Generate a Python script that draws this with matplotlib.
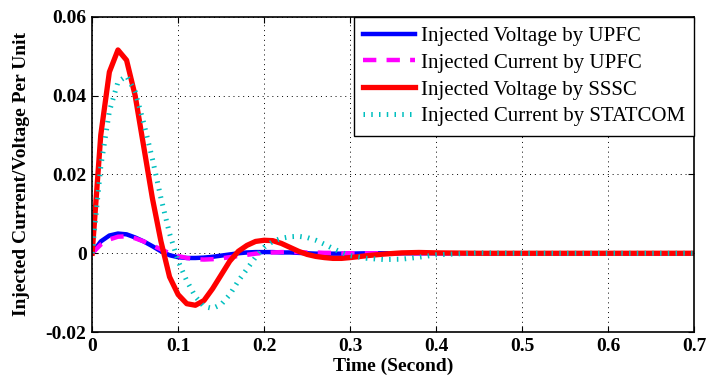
import matplotlib
matplotlib.use("Agg")
import matplotlib.pyplot as plt

# time base (s)
t = [0.00, 0.01, 0.02, 0.03, 0.04, 0.05, 0.06, 0.07, 0.08, 0.09,
     0.10, 0.11, 0.12, 0.13, 0.14, 0.15, 0.16, 0.17, 0.18, 0.19,
     0.20, 0.21, 0.22, 0.23, 0.24, 0.25, 0.26, 0.27, 0.28, 0.29,
     0.30, 0.32, 0.34, 0.36, 0.38, 0.40, 0.45, 0.50, 0.55, 0.60, 0.65, 0.70]

upfc_v = [0.0, 0.0030, 0.0045, 0.0050, 0.0048, 0.0040, 0.0030, 0.0018, 0.0005, -0.0005,
          -0.0010, -0.0012, -0.0012, -0.0011, -0.0009, -0.0006, -0.0003, 0.0, 0.0002, 0.0003,
          0.0003, 0.0003, 0.0002, 0.0002, 0.0001, 0.0, -0.0001, -0.0001, -0.0001, -0.0001,
          -0.0001, 0.0, 0.0, 0.0, 0.0, 0.0, 0.0, 0.0, 0.0, 0.0, 0.0, 0.0]

upfc_i = [0.0, 0.0022, 0.0035, 0.0042, 0.0043, 0.0038, 0.0030, 0.0020, 0.0010, 0.0,
          -0.0007, -0.0012, -0.0015, -0.0016, -0.0015, -0.0013, -0.0010, -0.0007, -0.0004, -0.0001,
          0.0001, 0.0002, 0.0003, 0.0003, 0.0003, 0.0002, 0.0002, 0.0001, 0.0001, 0.0,
          0.0, 0.0, 0.0, 0.0, 0.0, 0.0, 0.0, 0.0, 0.0, 0.0, 0.0, 0.0]

sssc_v = [0.0, 0.030, 0.046, 0.0516, 0.049, 0.040, 0.027, 0.014, 0.003, -0.006,
          -0.0105, -0.0128, -0.0132, -0.012, -0.009, -0.0055, -0.002, 0.0005, 0.002, 0.003,
          0.0033, 0.0032, 0.0025, 0.0015, 0.0005, -0.0003, -0.0008, -0.0011, -0.0013, -0.0013,
          -0.0011, -0.0006, -0.0002, 0.0001, 0.0002, 0.0001, 0.0, 0.0, 0.0, 0.0, 0.0, 0.0]

statcom_i = [0.0, 0.022, 0.036, 0.0435, 0.045, 0.041, 0.033, 0.024, 0.014, 0.005,
             -0.002, -0.007, -0.011, -0.0135, -0.014, -0.013, -0.0105, -0.007, -0.004, -0.001,
             0.0015, 0.003, 0.0038, 0.0042, 0.0043, 0.0040, 0.0033, 0.0023, 0.0012, 0.0002,
             -0.0006, -0.0013, -0.0016, -0.0015, -0.0010, -0.0004, 0.0001, 0.0, 0.0, 0.0, 0.0, 0.0]

plt.rcParams['font.family'] = 'Liberation Serif'

fig = plt.figure(figsize=(7.09, 3.83), dpi=100)
ax = fig.add_axes([0.130, 0.133, 0.849, 0.823])

ax.plot(t, upfc_v, color='#0000ff', lw=3.2, label='Injected Voltage by UPFC')
ax.plot(t, upfc_i, color='#ff00ff', lw=3.2, dashes=(3, 2.3), label='Injected Current by UPFC')
ax.plot(t, sssc_v, color='#ff0000', lw=3.8, label='Injected Voltage by SSSC')
ax.plot(t, statcom_i, color='#00bfbf', lw=3.6, dashes=(0.3, 1.25),
        dash_capstyle='butt', label='Injected Current by STATCOM')

ax.set_xlim(0, 0.7)
ax.set_ylim(-0.02, 0.06)
ax.set_xticks([0, 0.1, 0.2, 0.3, 0.4, 0.5, 0.6, 0.7])
ax.set_xticklabels(['0', '0.1', '0.2', '0.3', '0.4', '0.5', '0.6', '0.7'])
ax.set_yticks([-0.02, 0, 0.02, 0.04, 0.06])
ax.set_yticklabels(['-0.02', '0', '0.02', '0.04', '0.06'])
ax.tick_params(direction='in', top=True, right=True, length=4, width=0.8,
               labelsize=14, pad=4)
for lab in ax.get_xticklabels() + ax.get_yticklabels():
    lab.set_fontweight('bold')
for s in ax.spines.values():
    s.set_linewidth(1.2)

ax.grid(True, color='black', linestyle=(0, (1, 4)), linewidth=0.7)

ax.set_xlabel('Time (Second)', fontsize=14, fontweight='bold', labelpad=2)
ax.set_ylabel('Injected Current/Voltage Per Unit', fontsize=14, fontweight='bold', labelpad=11)

leg = ax.legend(loc='upper right', prop={'size': 15}, frameon=True, fancybox=False,
                edgecolor='black', framealpha=1, handlelength=2.5, handletextpad=0.25,
                borderaxespad=0, borderpad=0.45, labelspacing=0.35)
leg.get_frame().set_linewidth(1.0)

fig.savefig('out.png', dpi=100)
